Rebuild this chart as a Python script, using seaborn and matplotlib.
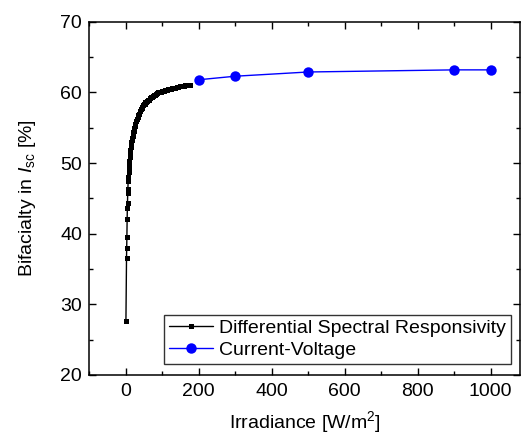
import matplotlib
matplotlib.use("Agg")
import matplotlib.pyplot as plt
import seaborn as sns
import pandas as pd
from matplotlib.ticker import MultipleLocator

# Differential Spectral Responsivity data
dsr_irr = [0.9, 2.5, 3.0, 3.5, 4.2, 4.8, 5.2, 5.8, 6.3, 7.0, 7.5, 8, 8.5, 9, 9.5, 10, 11, 12,
           13, 14, 15, 16, 17, 18, 19, 20, 21, 22, 23, 24, 25, 27, 29, 31, 33, 35, 37, 40,
           42, 44, 46, 48, 50, 52, 54, 56, 58, 60, 63, 66, 69, 72, 75, 78, 81, 84, 87, 90,
           93, 96, 100, 104, 108, 112, 116, 120, 124, 128, 132, 136, 140, 144, 148, 152,
           156, 160, 164, 168, 172, 176]
dsr_bif = [27.7, 36.6, 38.0, 39.5, 42.1, 43.6, 44.4, 45.8, 46.4, 47.5, 48.1, 48.8, 49.2, 49.6,
           50.0, 50.3, 50.9, 51.4, 51.9, 52.3, 52.7, 53.0, 53.3, 53.6, 53.9, 54.1, 54.4, 54.6,
           54.8, 55.0, 55.2, 55.6, 55.9, 56.2, 56.5, 56.8, 57.0, 57.4, 57.6, 57.8, 58.0, 58.2,
           58.3, 58.4, 58.6, 58.7, 58.8, 58.9, 59.0, 59.2, 59.3, 59.4, 59.5, 59.6, 59.7, 59.8,
           59.9, 60.0, 60.05, 60.1, 60.2, 60.25, 60.3, 60.4, 60.45, 60.5, 60.55, 60.6, 60.65,
           60.7, 60.75, 60.8, 60.85, 60.9, 60.92, 60.95, 61.0, 61.02, 61.05, 61.1]

# Current-Voltage data
iv_irr = [200, 300, 500, 900, 1000]
iv_bif = [61.8, 62.3, 62.9, 63.2, 63.2]

sns.set_style("ticks")
plt.rcParams['font.family'] = ['Liberation Sans', 'DejaVu Sans']
plt.rcParams['mathtext.fontset'] = 'custom'
plt.rcParams['mathtext.rm'] = 'Liberation Sans'
plt.rcParams['mathtext.it'] = 'Liberation Sans:italic'
plt.rcParams['text.color'] = 'black'
plt.rcParams['axes.labelcolor'] = 'black'
plt.rcParams['xtick.color'] = 'black'
plt.rcParams['ytick.color'] = 'black'

fig = plt.figure(figsize=(5.21, 4.37), dpi=100)
ax = fig.add_axes([0.171, 0.142, 0.827, 0.808])

df1 = pd.DataFrame({"x": dsr_irr, "y": dsr_bif})
df2 = pd.DataFrame({"x": iv_irr, "y": iv_bif})

sns.lineplot(data=df1, x="x", y="y", ax=ax, color="black", marker="s", markersize=3.6,
             markeredgewidth=0, linewidth=1.0, sort=False,
             label="Differential Spectral Responsivity")
sns.lineplot(data=df2, x="x", y="y", ax=ax, color="#0000FF", marker="o", markersize=7.5,
             markeredgewidth=0, linewidth=1.0, sort=False, label="Current-Voltage")

ax.set_xlim(-100, 1080)
ax.set_ylim(20, 70)
ax.xaxis.set_major_locator(MultipleLocator(200))
ax.xaxis.set_minor_locator(MultipleLocator(100))
ax.yaxis.set_major_locator(MultipleLocator(10))
ax.yaxis.set_minor_locator(MultipleLocator(5))
ax.tick_params(which='both', direction='in', top=True, right=True, labelsize=14,
               width=1.0, color='black', labelcolor='black')
ax.tick_params(which='major', length=5)
ax.tick_params(which='minor', length=3)
ax.tick_params(axis='x', which='major', pad=6)
ax.tick_params(axis='y', which='major', pad=5)
for s in ax.spines.values():
    s.set_linewidth(1.1)
    s.set_color('black')

ax.set_xlabel(r'Irradiance [W/m$^2$]', fontsize=14, labelpad=6)
ax.set_ylabel(r'Bifacialty in $\mathit{I}_{\mathrm{sc}}$ [%]', fontsize=14, labelpad=16)

leg = ax.legend(loc='lower right', bbox_to_anchor=(0.979, 0.031), borderaxespad=0,
                fontsize=14, frameon=True, fancybox=False, handlelength=2.3,
                handletextpad=0.3, borderpad=0.25, labelspacing=0.22)
leg.get_frame().set_edgecolor('black')
leg.get_frame().set_linewidth(1.0)

fig.savefig("out.png", dpi=100)
